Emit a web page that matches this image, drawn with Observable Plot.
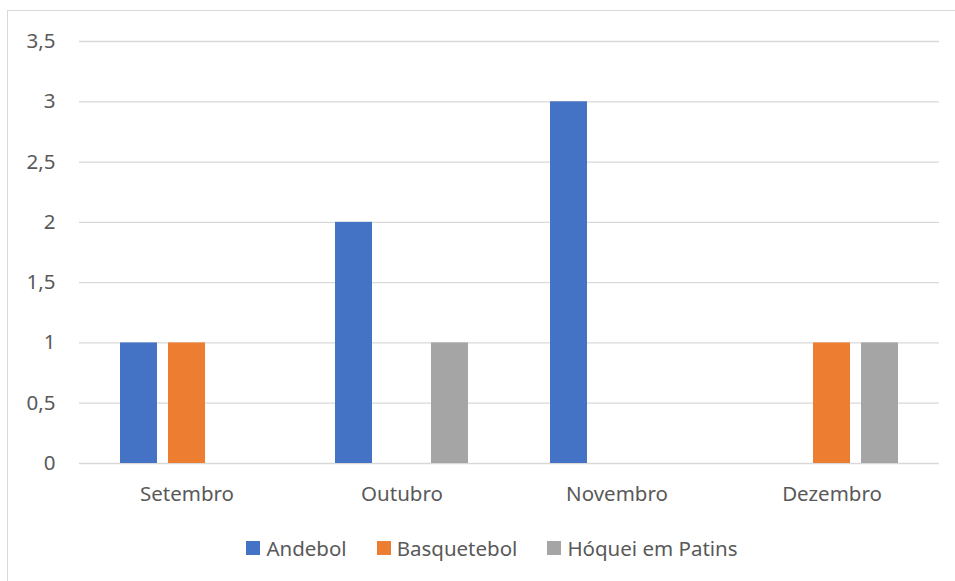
<!DOCTYPE html>
<html>
<head>
<meta charset="utf-8">
<script src="https://cdn.jsdelivr.net/npm/d3@7"></script>
<script src="https://cdn.jsdelivr.net/npm/@observablehq/plot@0.6"></script>
<style>
  html, body { margin: 0; padding: 0; background: #fff; }
  #wrap { position: relative; width: 955px; height: 581px; overflow: hidden; font-family: "Noto Sans", sans-serif; }
  #frame { position: absolute; left: 7px; top: 10px; width: 2000px; height: 2000px; border-left: 1.5px solid #d9d9d9; border-top: 1.5px solid #d9d9d9; pointer-events: none; }
  #legend { position: absolute; top: 534px; left: 7px; width: 970px; display: flex; justify-content: center; align-items: center; gap: 30px; font-size: 20.5px; color: #595959; }
  #legend .item { display: flex; align-items: center; gap: 6px; }
  #legend .sw { width: 14px; height: 14px; display: inline-block; }
</style>
</head>
<body>
<div id="wrap">
  <div id="chart"></div>
  <div id="legend"></div>
  <div id="frame"></div>
</div>
<script>
const months = ["Setembro", "Outubro", "Novembro", "Dezembro"];
const series = ["Andebol", "Basquetebol", "Hóquei em Patins"];
const andebol = [1, 2, 3, 0];
const basquetebol = [1, 0, 0, 1];
const hoquei = [0, 1, 0, 1];
const colors = ["#4472C4", "#ED7D31", "#A5A5A5"];
const yTicks = [0, 0.5, 1, 1.5, 2, 2.5, 3, 3.5];

const values = [andebol, basquetebol, hoquei];
const data = [];
months.forEach((m, i) => {
  series.forEach((s, j) => data.push({month: m, series: s, value: values[j][i]}));
});

const fmt = d => String(d).replace(".", ",");

const plot = Plot.plot({
  width: 955,
  height: 520,
  marginTop: 41,
  marginBottom: 57,
  marginLeft: 78,
  marginRight: 16,
  style: {background: "transparent", fontFamily: "Noto Sans, sans-serif", fontSize: "20.5px", color: "#595959"},
  fx: {domain: months, padding: 0, axis: "bottom", tickSize: 0, tickPadding: 23, label: null},
  x: {domain: series, paddingInner: 0.23, paddingOuter: 0.854, axis: null},
  y: {domain: [0, 3.5], ticks: yTicks, tickFormat: fmt, tickSize: 0, tickPadding: 24, label: null},
  color: {domain: series, range: colors},
  marks: [
    Plot.ruleY(yTicks, {stroke: "#d9d9d9", strokeWidth: 1.3}),
    Plot.barY(data, {fx: "month", x: "series", y: "value", fill: "series"})
  ]
});
document.getElementById("chart").appendChild(plot);

const legend = document.getElementById("legend");
series.forEach((s, j) => {
  const item = document.createElement("div");
  item.className = "item";
  const sw = document.createElement("span");
  sw.className = "sw";
  sw.style.background = colors[j];
  const t = document.createElement("span");
  t.textContent = s;
  item.appendChild(sw);
  item.appendChild(t);
  legend.appendChild(item);
});
</script>
</body>
</html>
